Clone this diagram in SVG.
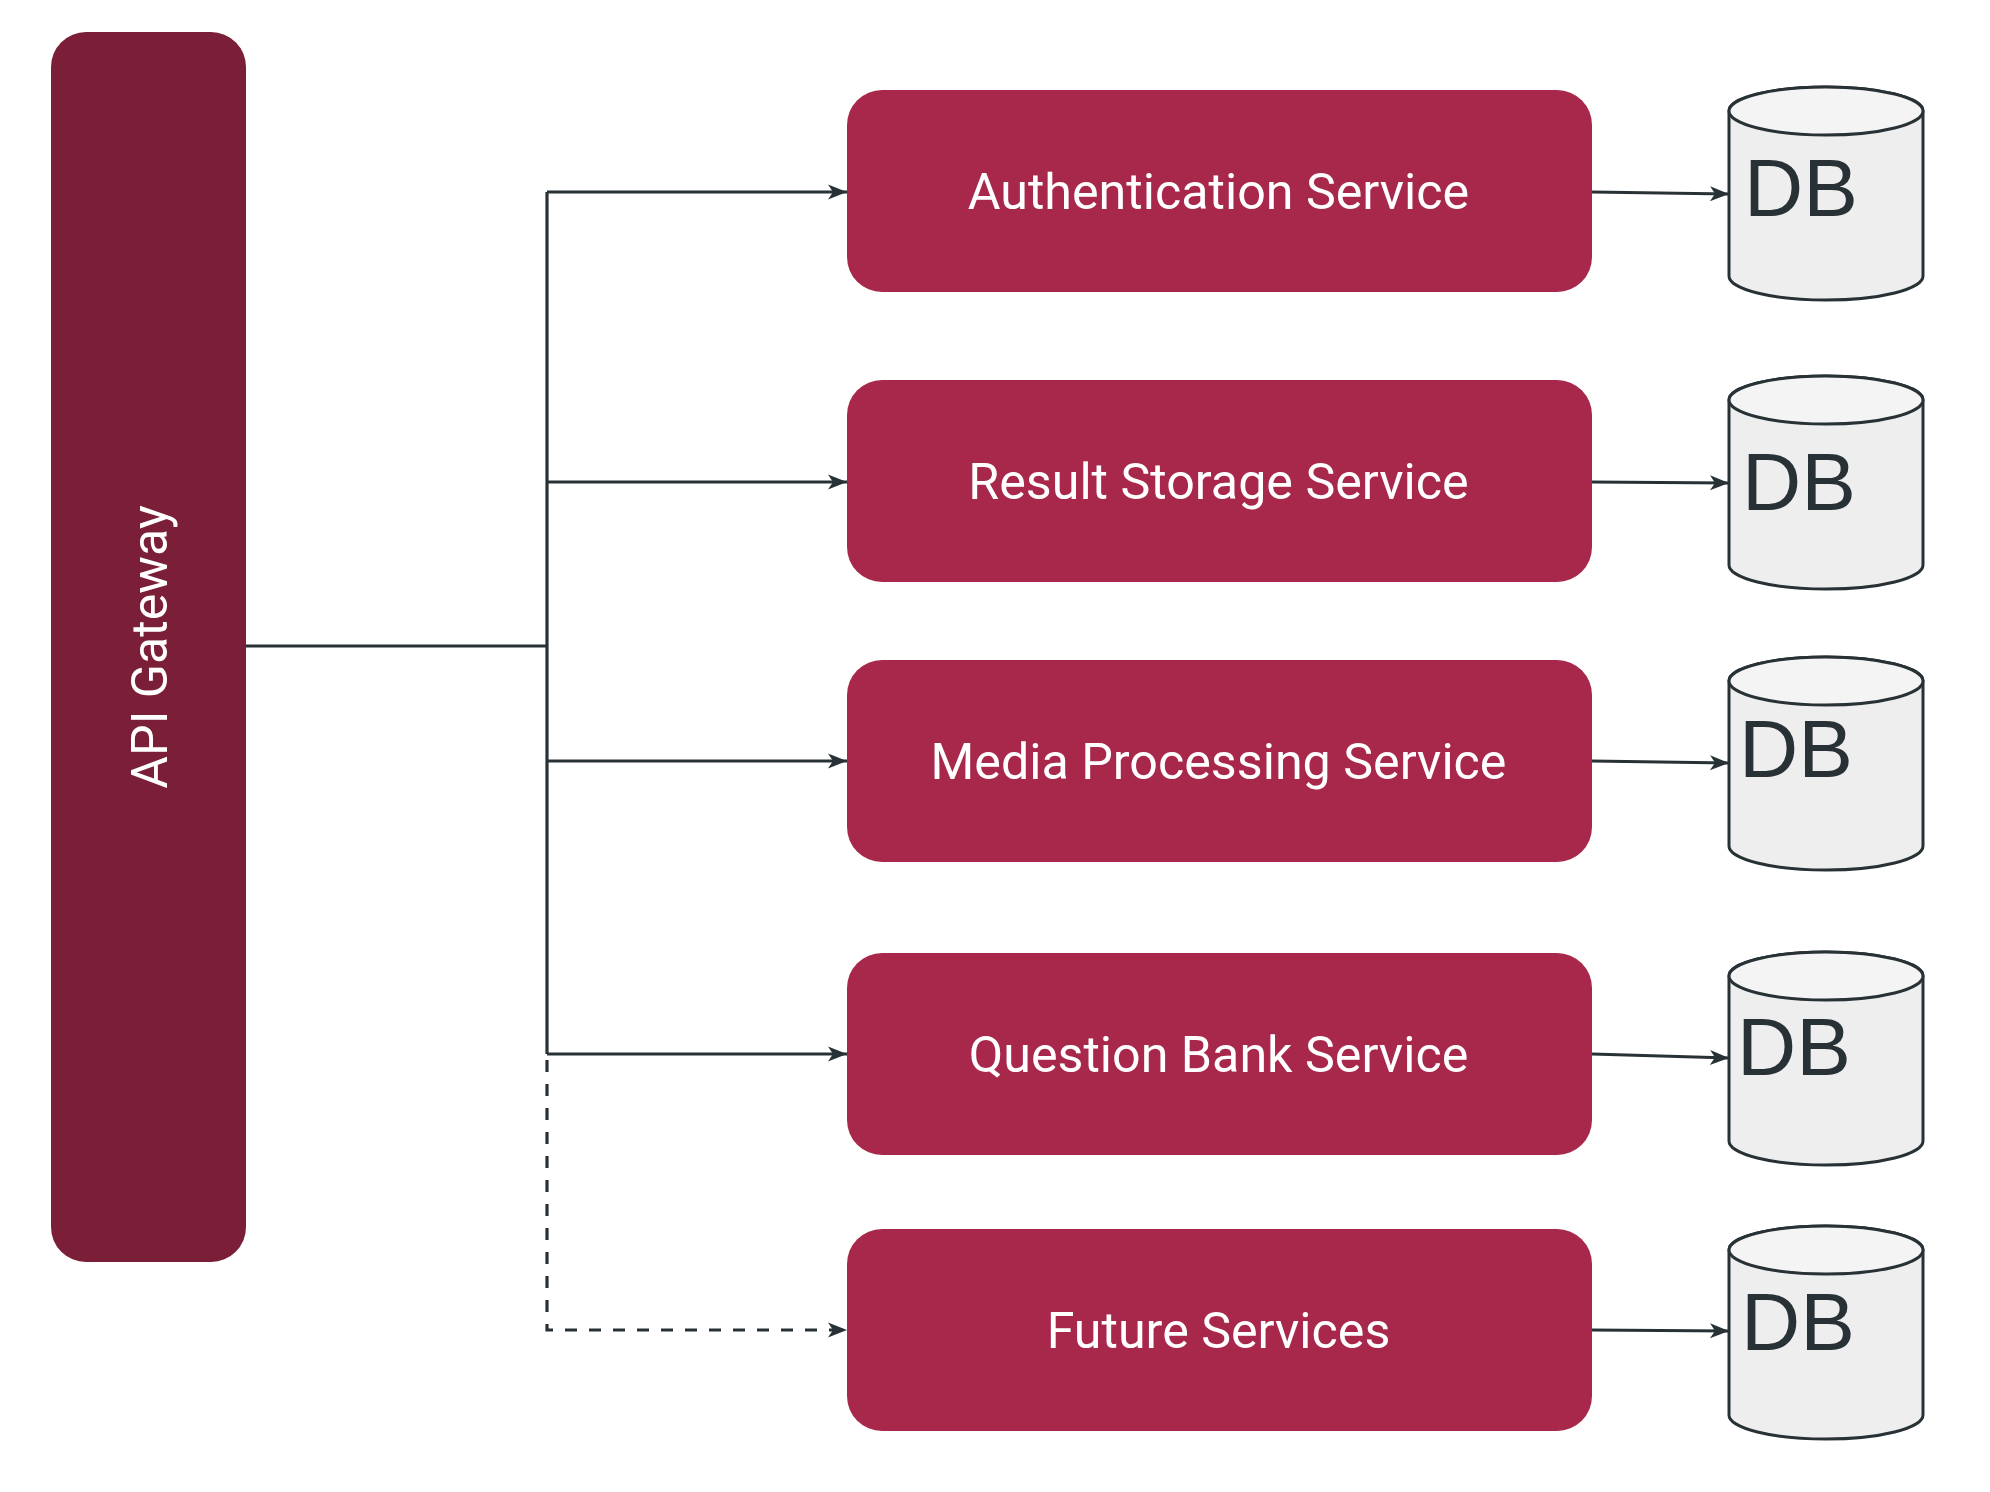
<svg xmlns="http://www.w3.org/2000/svg" width="1990" height="1492" viewBox="0 0 1990 1492">
<style>
.gw{fill:#7b1e37}
.svc{fill:#a7284b}
.lbl{font-family:Roboto,"Liberation Sans",sans-serif;font-size:50.2px;fill:#ffffff;text-anchor:middle}
.dbtxt{font-family:"Liberation Sans",Arial,sans-serif;font-size:82px;fill:#283236}
.cyl{fill:#eeeeee;stroke:#283236;stroke-width:3}
.cyltop{fill:#f4f4f4;stroke:#283236;stroke-width:3}
.ln{fill:none;stroke:#283236;stroke-width:3.2}
.dash{stroke-dasharray:12 12}
</style>
<defs>
<marker id="arr" markerUnits="userSpaceOnUse" markerWidth="20" markerHeight="16" refX="19" refY="7.5" orient="auto" overflow="visible">
<path d="M0,0 L19,7.5 L0,15 L5,7.5 Z" fill="#283236"/>
</marker>
</defs>
<rect width="1990" height="1492" fill="#ffffff"/>
<g id="api-gateway">
<rect class="gw" x="51" y="32" width="195" height="1230" rx="35"/>
<text class="lbl" x="148.5" y="665" transform="rotate(-90 148.5 647)">API Gateway</text>
</g>
<g id="auth-service">
<rect class="svc" x="847" y="90" width="745" height="202" rx="35"/>
<text class="lbl" x="1218.5" y="209">Authentication Service</text>
</g>
<g id="result-service">
<rect class="svc" x="847" y="380" width="745" height="202" rx="35"/>
<text class="lbl" x="1218.5" y="499">Result Storage Service</text>
</g>
<g id="media-service">
<rect class="svc" x="847" y="660" width="745" height="202" rx="35"/>
<text class="lbl" x="1218.5" y="779">Media Processing Service</text>
</g>
<g id="question-service">
<rect class="svc" x="847" y="953" width="745" height="202" rx="35"/>
<text class="lbl" x="1218.5" y="1072">Question Bank Service</text>
</g>
<g id="future-service">
<rect class="svc" x="847" y="1229" width="745" height="202" rx="35"/>
<text class="lbl" x="1218.5" y="1348">Future Services</text>
</g>
<g id="db1">
<path class="cyl" d="M1729,111 a97,24 0 0 1 194,0 V276 a97,24 0 0 1 -194,0 Z"/>
<ellipse class="cyltop" cx="1826" cy="111" rx="97" ry="24"/>
<text class="dbtxt" x="1744" y="216">DB</text>
</g>
<g id="db2">
<path class="cyl" d="M1729,400 a97,24 0 0 1 194,0 V565 a97,24 0 0 1 -194,0 Z"/>
<ellipse class="cyltop" cx="1826" cy="400" rx="97" ry="24"/>
<text class="dbtxt" x="1742" y="510">DB</text>
</g>
<g id="db3">
<path class="cyl" d="M1729,681 a97,24 0 0 1 194,0 V846 a97,24 0 0 1 -194,0 Z"/>
<ellipse class="cyltop" cx="1826" cy="681" rx="97" ry="24"/>
<text class="dbtxt" x="1739" y="777">DB</text>
</g>
<g id="db4">
<path class="cyl" d="M1729,976 a97,24 0 0 1 194,0 V1141 a97,24 0 0 1 -194,0 Z"/>
<ellipse class="cyltop" cx="1826" cy="976" rx="97" ry="24"/>
<text class="dbtxt" x="1737" y="1075">DB</text>
</g>
<g id="db5">
<path class="cyl" d="M1729,1250 a97,24 0 0 1 194,0 V1415 a97,24 0 0 1 -194,0 Z"/>
<ellipse class="cyltop" cx="1826" cy="1250" rx="97" ry="24"/>
<text class="dbtxt" x="1741" y="1350">DB</text>
</g>
<g id="connectors">
<path class="ln" d="M246,646 H547" stroke-width="3.6"/>
<path class="ln" d="M547,192 V1054"/>
<path class="ln" d="M547,192 H847" marker-end="url(#arr)"/>
<path class="ln" d="M547,482 H847" marker-end="url(#arr)"/>
<path class="ln" d="M547,761 H847" marker-end="url(#arr)"/>
<path class="ln" d="M547,1054 H847" marker-end="url(#arr)"/>
<path class="ln dash" d="M547,1060 V1330 H847" marker-end="url(#arr)"/>
<path class="ln" d="M1592,192 L1729,194" marker-end="url(#arr)"/>
<path class="ln" d="M1592,482 L1729,483" marker-end="url(#arr)"/>
<path class="ln" d="M1592,761 L1729,763" marker-end="url(#arr)"/>
<path class="ln" d="M1592,1054 L1729,1058" marker-end="url(#arr)"/>
<path class="ln" d="M1592,1330 L1729,1331" marker-end="url(#arr)"/>
</g>
</svg>
